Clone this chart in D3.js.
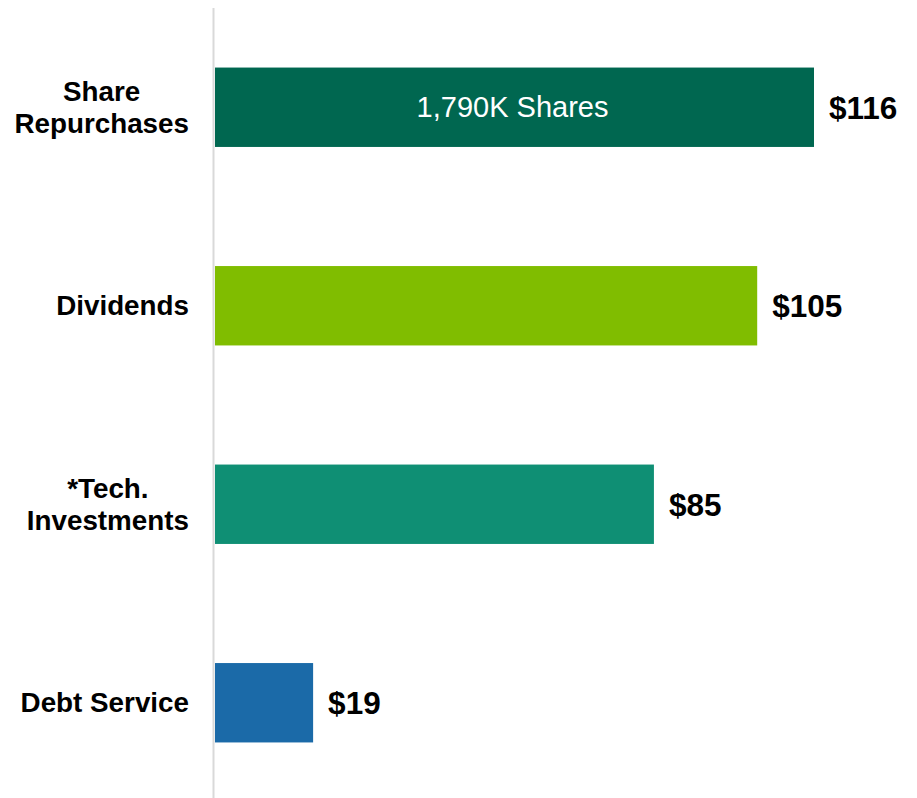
<!DOCTYPE html>
<html>
<head>
<meta charset="utf-8">
<script src="https://cdn.jsdelivr.net/npm/d3@7"></script>
<style>
  body { margin: 0; background: #fff; }
  text { font-family: "Liberation Sans", Arial, sans-serif; }
</style>
</head>
<body>
<div id="chart"></div>
<script>
const categories = [["Share", "Repurchases"], ["Dividends"], ["*Tech.", "Investments"], ["Debt Service"]];
const values = [116, 105, 85, 19];
const valueLabels = ["$116", "$105", "$85", "$19"];
const colors = ["#006750", "#80bd00", "#0f8f74", "#1b6aa8"];
const barNote = "1,790K Shares";

const width = 917;
const height = 798;

const svg = d3.select("#chart").append("svg")
  .attr("width", width)
  .attr("height", height);

const keys = categories.map(c => c.join(" "));

const yScale = d3.scaleBand()
  .domain(keys)
  .range([8, 802])
  .paddingInner(0.6)
  .paddingOuter(0.3);

const xScale = d3.scaleLinear()
  .domain([0, 116])
  .range([215, 814]);

// axis line
svg.append("line")
  .attr("x1", 213.5).attr("x2", 213.5)
  .attr("y1", 8).attr("y2", height)
  .attr("stroke", "#d9d9d9")
  .attr("stroke-width", 2);

const rows = svg.selectAll(".row")
  .data(values.map((v, i) => ({ key: keys[i], lines: categories[i], v, label: valueLabels[i], color: colors[i] })))
  .enter()
  .append("g");

rows.append("rect")
  .attr("x", xScale(0))
  .attr("y", d => yScale(d.key))
  .attr("width", d => xScale(d.v) - xScale(0))
  .attr("height", yScale.bandwidth())
  .attr("fill", d => d.color);

rows.append("text")
  .attr("x", d => xScale(d.v) + 15)
  .attr("y", d => yScale(d.key) + yScale.bandwidth() / 2)
  .attr("dy", "0.36em")
  .attr("font-size", 31.5)
  .attr("font-weight", "bold")
  .attr("fill", "#000")
  .text(d => d.label);

// category labels (multi-line, centered block, right edge at 189)
const lineH = 32;
rows.each(function(d) {
  const g = d3.select(this);
  const cy = yScale(d.key) + yScale.bandwidth() / 2;
  const t = g.append("text")
    .attr("font-size", 27.8)
    .attr("font-weight", "bold")
    .attr("fill", "#000")
    .attr("text-anchor", "middle");
  const spans = d.lines.map((line, i) =>
    t.append("tspan")
      .attr("y", cy + (i - (d.lines.length - 1) / 2) * lineH)
      .attr("dy", "0.35em")
      .text(line));
  const maxW = d3.max(spans, s => s.node().getComputedTextLength());
  spans.forEach(s => s.attr("x", 189 - maxW / 2));
});

// note inside first bar
svg.append("text")
  .attr("x", (xScale(0) + xScale(values[0])) / 2 - 2)
  .attr("y", yScale(keys[0]) + yScale.bandwidth() / 2)
  .attr("dy", "0.35em")
  .attr("text-anchor", "middle")
  .attr("font-size", 29)
  .attr("fill", "#fff")
  .text(barNote);
</script>
</body>
</html>
